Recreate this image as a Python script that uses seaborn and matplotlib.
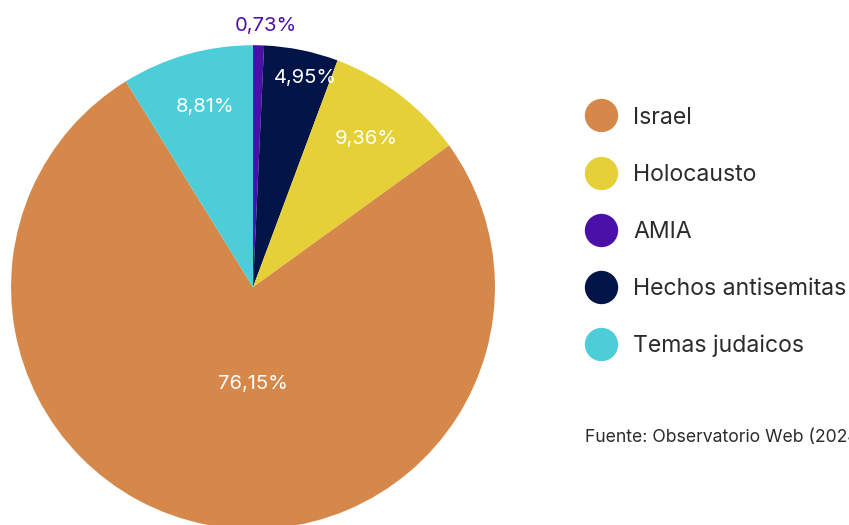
import numpy as np
import matplotlib
matplotlib.use("Agg")
import matplotlib.pyplot as plt
from matplotlib.lines import Line2D
import seaborn as sns

# slices in drawing order (clockwise from 12 o'clock)
categories = ["AMIA", "Hechos antisemitas", "Holocausto", "Israel", "Temas judaicos"]
shares = [0.73, 4.95, 9.36, 76.15, 8.81]
pct_labels = ["0,73%", "4,95%", "9,36%", "76,15%", "8,81%"]
legend_order = ["Israel", "Holocausto", "AMIA", "Hechos antisemitas", "Temas judaicos"]
source_text = "Fuente: Observatorio Web (2024)"

colors = {
    "Israel": "#D6874A",
    "Holocausto": "#E5D038",
    "AMIA": "#4B10A8",
    "Hechos antisemitas": "#001447",
    "Temas judaicos": "#4CCDD8",
}
label_colors = ["#4B10A8", "white", "white", "white", "white"]
# label placement: radius factor and small angular nudge (deg) per slice
label_radius = [1.08, 0.89, 0.77, 0.40, 0.77]
label_nudge = [-1.6, -2.5, 0.0, 11.0, -1.0]

sns.set_theme(style="white")
plt.rcParams["font.family"] = ["Inter", "DejaVu Sans"]

fig = plt.figure(figsize=(8.49, 5.25), dpi=100)
ax = fig.add_axes([0.013, -0.008, 0.570, 0.922])

wedges, _ = ax.pie(
    shares,
    colors=[colors[c] for c in categories],
    startangle=90,
    counterclock=False,
    radius=1.0,
    wedgeprops=dict(linewidth=0),
)
for w, lab, col, r, nd in zip(wedges, pct_labels, label_colors, label_radius, label_nudge):
    mid = np.deg2rad((w.theta1 + w.theta2) / 2 + nd)
    ax.text(r * np.cos(mid), r * np.sin(mid), lab, ha="center", va="center",
            color=col, fontsize=14.5)
ax.set_xlim(-1, 1)
ax.set_ylim(-1, 1)
ax.set_aspect("equal")
ax.axis("off")

handles = [Line2D([0], [0], marker="o", linestyle="", markersize=24,
                  markerfacecolor=colors[c], markeredgewidth=0) for c in legend_order]
fig.legend(handles, legend_order, loc="upper left", bbox_to_anchor=(0.6784, 0.819),
           frameon=False, fontsize=16.6, labelspacing=1.52, handletextpad=0.79,
           borderpad=0, handlelength=1.2, labelcolor="#2b2b2b")

fig.text(585 / 849, 1 - 438 / 525, source_text, ha="left", va="center",
         fontsize=12.7, color="#2b2b2b")

fig.savefig("out.png", dpi=100)
